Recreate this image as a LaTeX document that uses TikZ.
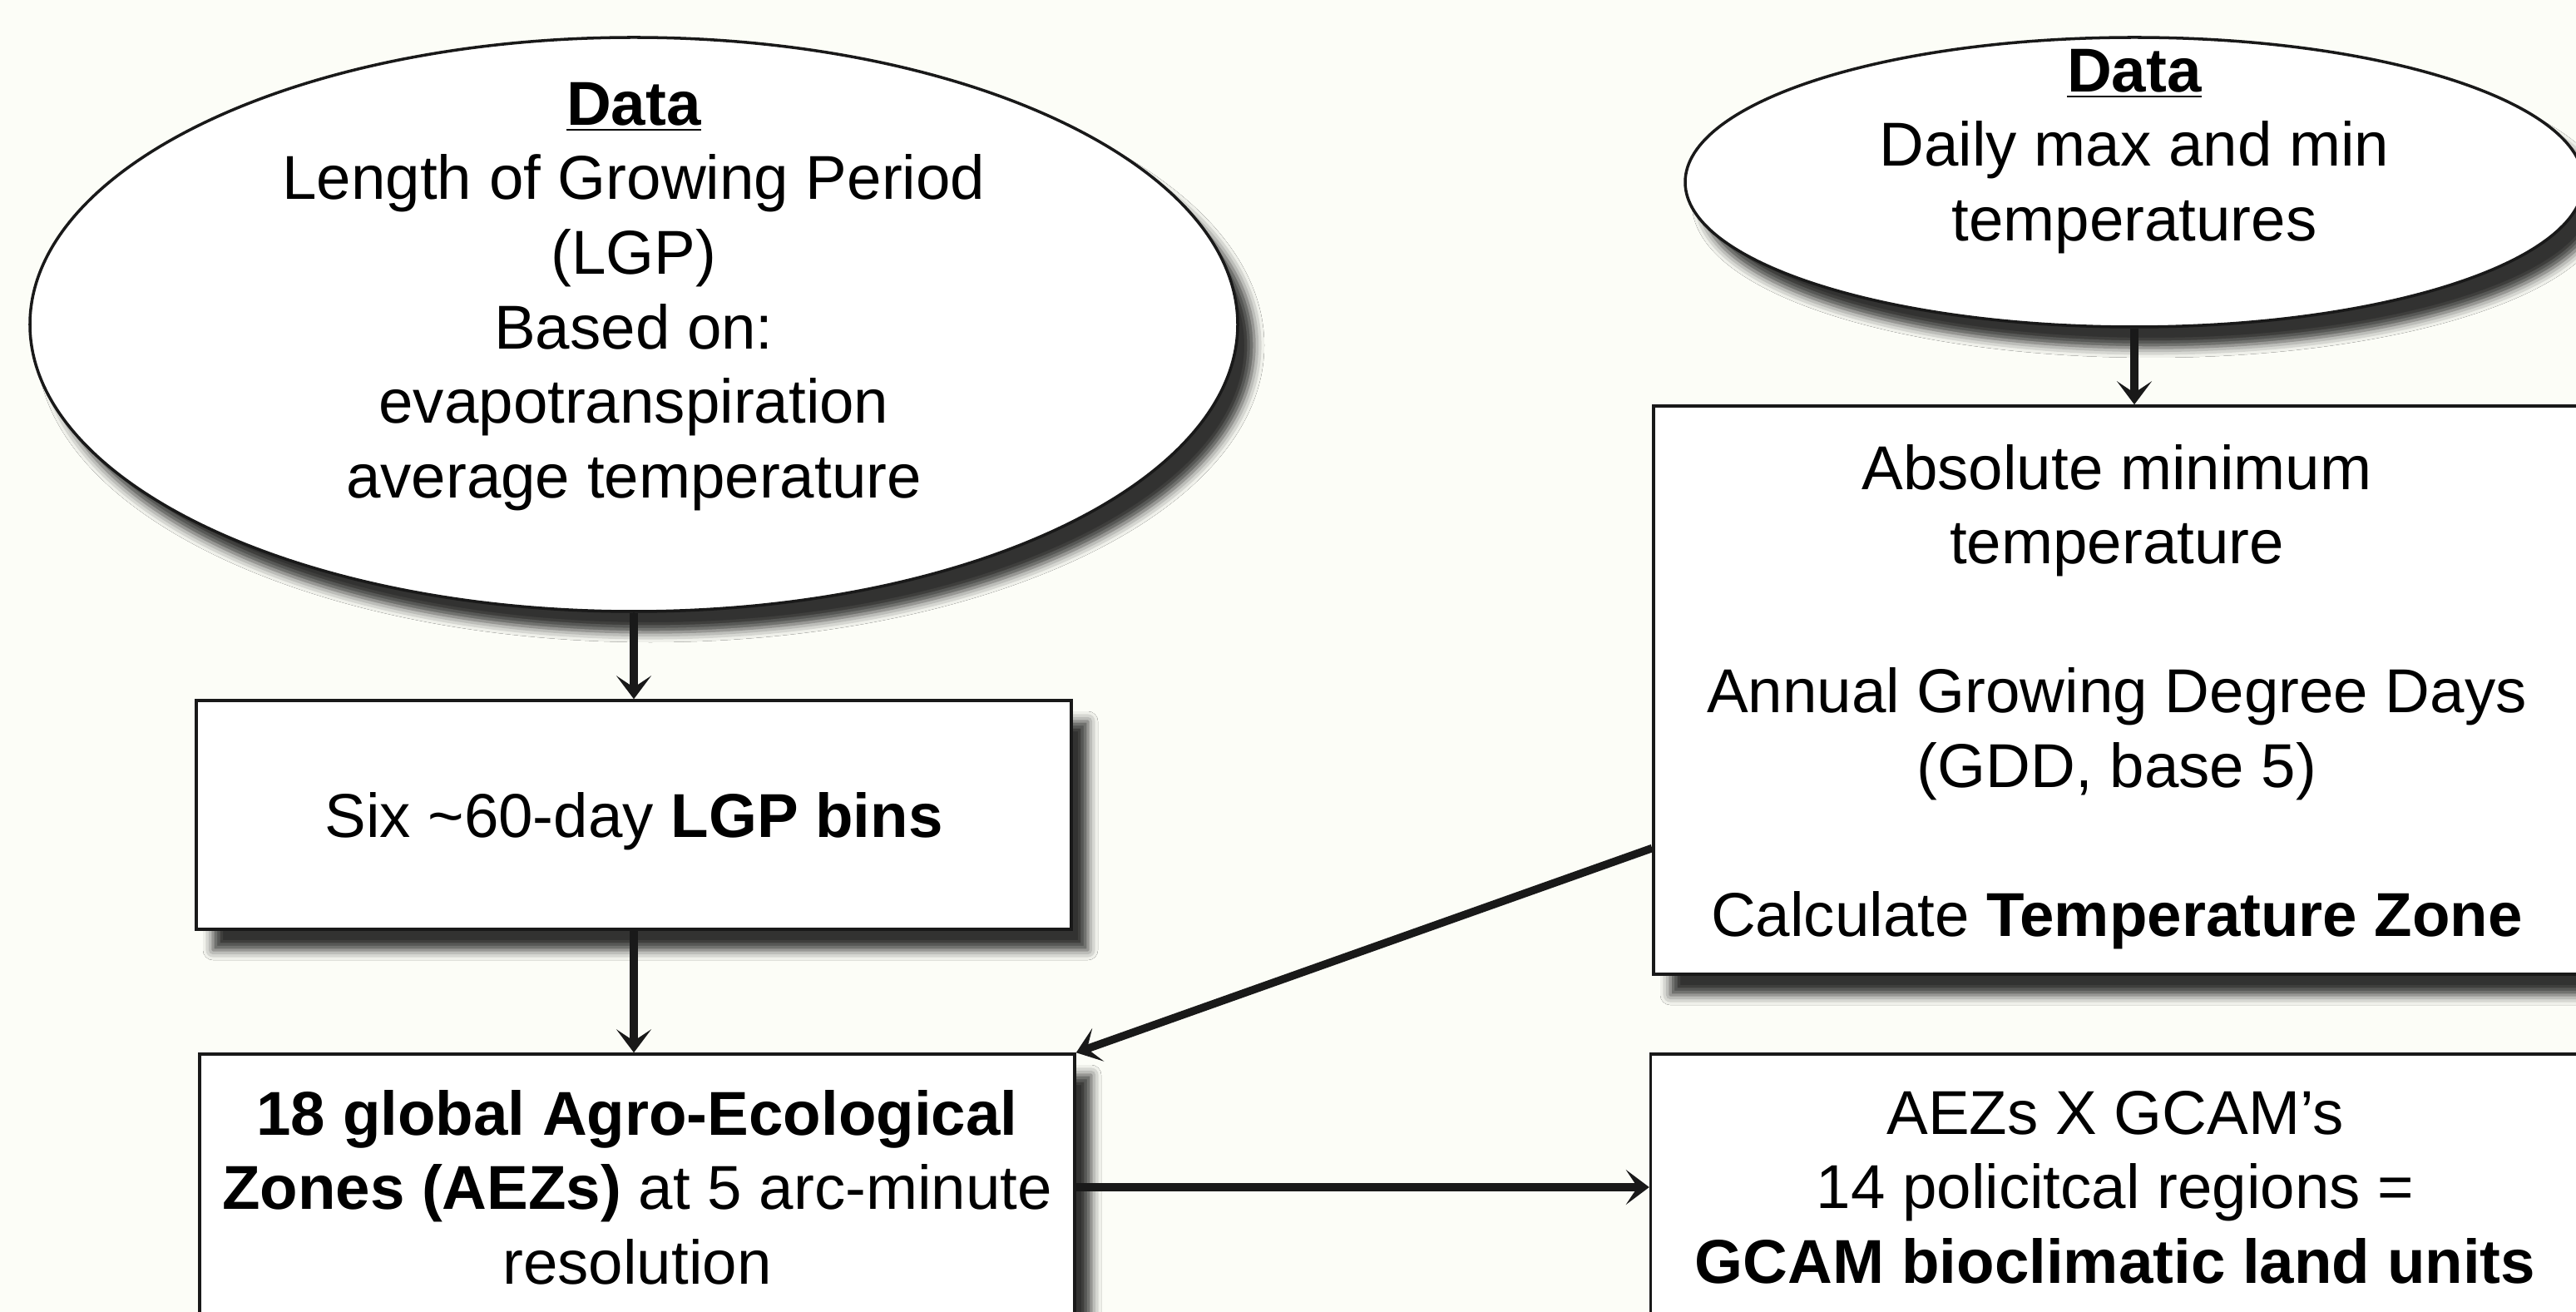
\documentclass[tikz,border=0pt]{standalone}
\usepackage{fontspec}
\setmainfont{Liberation Sans}
\usepackage{tikz}
\usetikzlibrary{positioning,arrows.meta,shapes.geometric,calc,shadows.blur}
\definecolor{paper}{RGB}{252,253,247}
\newcommand{\flowfont}{\fontsize{21.2pt}{25.5pt}\selectfont}

\begin{document}
\begin{tikzpicture}[
  fshadow/.style={blur shadow={shadow xshift=0.2cm,shadow yshift=-0.25cm,
    shadow blur radius=0.12cm,shadow opacity=80}},
  dell/.style={ellipse,draw=black!90,line width=1pt,fill=white,fshadow,inner sep=0pt},
  pbox/.style={rectangle,draw=black!90,line width=1pt,fill=white,fshadow,
    font=\flowfont,align=center,inner sep=0pt},
  ptxt/.style={font=\flowfont,align=center,inner sep=0pt},
  parr/.style={-{Stealth[length=0.28cm,width=0.42cm,inset=0.14cm]},line width=2.7pt,black!90}
]
\useasboundingbox[fill=paper] (0,0) rectangle (30.97,-15.77);

\node[dell,minimum width=14.52cm,minimum height=6.9cm] (lgp) at (7.62,-3.90) {};
\node[ptxt] (lgptxt) at (7.62,-3.565) {\underline{\textbf{Data}}\\Length of Growing Period\\(LGP)\\Based on:\\evapotranspiration\\average temperature};
\node[dell,minimum width=10.8cm,minimum height=3.48cm] (tdat) at (25.66,-2.19) {};
\node[ptxt] (tdattxt) at (25.66,-1.82) {\underline{\textbf{Data}}\\Daily max and min\\temperatures};

\node[pbox,minimum width=10.52cm,minimum height=2.75cm] (bins) at (7.62,-9.795) {\rule{0pt}{19.5pt}Six \textasciitilde60-day \textbf{LGP bins}};
\node[pbox,minimum width=10.52cm,minimum height=3.2cm] (aez) at (7.66,-14.27)
  {\textbf{18 global Agro-Ecological}\\\textbf{Zones (AEZs)} at 5 arc-minute\\resolution};
\node[pbox,minimum width=11.14cm,minimum height=6.83cm] (tz) at (25.45,-8.295)
  {\rule{0pt}{20pt}Absolute minimum\\temperature\\[\baselineskip]Annual Growing Degree Days\\(GDD, base 5)\\[\baselineskip]Calculate \textbf{Temperature Zone}};
\node[pbox,minimum width=11.17cm,minimum height=3.2cm] (gcam) at (25.43,-14.27)
  {AEZs X GCAM’s\\14 policitcal regions =\\\textbf{GCAM bioclimatic land units}};

\draw[parr] (lgp.south) -- (bins.north);
\draw[parr] (bins.south) -- (bins.south |- aez.north);
\draw[parr] (tdat.south) -- (tdat.south |- tz.north);
\draw[parr] ([yshift=-1.9cm]tz.west) -- (aez.north east);
\draw[parr] (aez.east) -- (gcam.west);
\end{tikzpicture}
\end{document}
